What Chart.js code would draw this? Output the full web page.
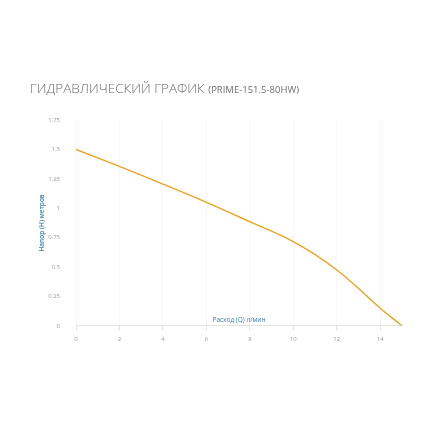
<!DOCTYPE html>
<html>
<head>
<meta charset="utf-8">
<script src="https://cdn.jsdelivr.net/npm/chart.js@4"></script>
<style>
  html, body { margin: 0; padding: 0; background: #fff; }
  #wrap { width: 440px; height: 440px; }
</style>
</head>
<body>
<div id="wrap"><canvas id="pumpChart"></canvas></div>
<script>
// Гидравлический график PRIME-151.5-80HW
const flow = [0, 2, 4, 6, 8, 10, 12, 14, 15];
const head = [1.5, 1.355, 1.205, 1.05, 0.885, 0.715, 0.475, 0.15, 0];
const xTicks = [0, 2, 4, 6, 8, 10, 12, 14];
const yTicks = [0, 0.25, 0.5, 0.75, 1, 1.25, 1.5, 1.75];

const titleMain = 'ГИДРАВЛИЧЕСКИЙ ГРАФИК';
const titleModel = '(PRIME-151.5-80HW)';
const xTitle = 'Расход (Q) л/мин';
const yTitle = 'Напор (H) метров';

const labelsPlugin = {
    id: 'labels',
    afterDraw(chart) {
        const ctx = chart.ctx;
        const area = chart.chartArea;
        ctx.save();
        ctx.fillStyle = '#6e6e6e';
        ctx.textBaseline = 'alphabetic';
        ctx.font = '300 13.5px "Open Sans"';
        ctx.fillText(titleMain, 30, 93);
        const w = ctx.measureText(titleMain + ' ').width;
        ctx.font = '400 9.5px "Open Sans"';
        ctx.fillText(titleModel, 30 + w, 93);

        ctx.fillStyle = '#3d7fae';
        ctx.font = '400 6.5px "Open Sans"';
        ctx.textAlign = 'center';
        ctx.fillText(xTitle, (area.left + area.right) / 2, area.bottom - 4);
        ctx.restore();
    }
};

const ctx = document.getElementById('pumpChart').getContext('2d');
new Chart(ctx, {
    type: 'line',
    data: {
        datasets: [{
            data: flow.map((q, i) => ({ x: q, y: head[i] })),
            borderColor: '#e8a325',
            borderWidth: 1.4,
            pointRadius: 0,
            tension: 0.4,
            fill: false
        }]
    },
    options: {
        responsive: true,
        maintainAspectRatio: false,
        animation: false,
        layout: { padding: { top: 120, left: 38, right: 38, bottom: 92 } },
        plugins: {
            legend: { display: false },
            tooltip: { enabled: false }
        },
        scales: {
            x: {
                type: 'linear',
                min: 0,
                max: 15,
                afterBuildTicks: scale => { scale.ticks = xTicks.map(v => ({ value: v })); },
                grid: { color: '#f7f7f7', tickColor: '#e4e4e4', tickLength: 5 },
                border: { color: '#e4e4e4' },
                ticks: { color: '#9a9a9a', font: { family: 'Open Sans', size: 6 }, padding: 5 }
            },
            y: {
                min: 0,
                max: 1.75,
                afterBuildTicks: scale => { scale.ticks = yTicks.map(v => ({ value: v })); },
                afterFit: scale => { scale.width = 38; },
                grid: { display: false },
                border: { display: false },
                title: {
                    display: true,
                    text: yTitle,
                    color: '#3d7fae',
                    font: { family: 'Open Sans', size: 6.5, weight: '600' },
                    padding: 0
                },
                ticks: {
                    color: '#9a9a9a',
                    font: { family: 'Open Sans', size: 6 },
                    padding: 8,
                    callback: v => String(v)
                }
            }
        }
    },
    plugins: [labelsPlugin]
});
</script>
</body>
</html>
